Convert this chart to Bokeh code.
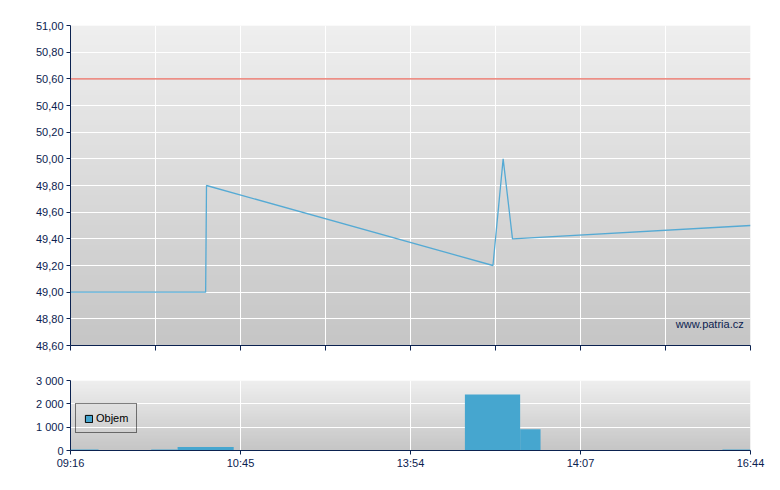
import numpy as np
from bokeh.plotting import figure
from bokeh.layouts import column
from bokeh.models import (Range1d, FixedTicker, CustomJSTickFormatter, Label,
                          Legend, LegendItem, ColumnDataSource)
from bokeh.embed import file_html
from bokeh.resources import INLINE

# ---------------- data ----------------
# time axis in "slot" units: 0 = 09:16 ... 8 = 16:44
time_ticks = [0, 2, 4, 6, 8]
time_labels = ["09:16", "10:45", "13:54", "14:07", "16:44"]

price_t = [0.0, 1.59, 1.60, 4.97, 5.09, 5.20, 8.0]
price_v = [49.00, 49.00, 49.80, 49.20, 50.00, 49.40, 49.50]
ref_price = 50.60

vol_left = [0.0, 0.95, 1.26, 4.64, 5.29, 7.67]
vol_right = [0.33, 1.26, 1.92, 5.29, 5.53, 8.0]
vol_value = [40, 40, 150, 2400, 910, 40]

price_ticks = [48.6, 48.8, 49.0, 49.2, 49.4, 49.6, 49.8, 50.0, 50.2, 50.4, 50.6, 50.8, 51.0]
vol_ticks = [0, 1000, 2000, 3000]

# ---------------- style ----------------
NAVY = "#0b2250"
FONT = "Liberation Sans"
LINE_BLUE = "#55aad4"
BAR_BLUE = "#46a6cf"


def gradient(top=0xEF, bottom=0xC6, n=64):
    vals = np.linspace(bottom, top, n).astype(np.uint32)  # row 0 = bottom
    img = (0xFF << 24) | (vals << 16) | (vals << 8) | vals
    return img.reshape(n, 1).astype(np.uint32)


def style(p):
    p.outline_line_color = None
    p.background_fill_color = "white"
    p.border_fill_color = "white"
    for ax in (p.xaxis[0], p.yaxis[0]):
        ax.axis_line_color = NAVY
        ax.major_tick_line_color = NAVY
        ax.major_tick_in = 0
        ax.major_tick_out = 4
        ax.minor_tick_line_color = None
        ax.major_label_text_color = NAVY
        ax.major_label_text_font = FONT
        ax.major_label_text_font_size = "11px"
        ax.major_label_standoff = 3
    p.xgrid.grid_line_color = "white"
    p.ygrid.grid_line_color = "white"
    p.xgrid.grid_line_width = 1
    p.ygrid.grid_line_width = 1


# ---------------- price chart ----------------
p1 = figure(width=772, height=368, output_backend="svg", toolbar_location=None,
            x_range=Range1d(0, 8), y_range=Range1d(48.6, 51.0),
            min_border_left=70, min_border_right=22, min_border_top=25, min_border_bottom=23)
p1.image_rgba(image=[gradient()], x=0, y=48.6, dw=8, dh=2.4, level="image")
style(p1)
p1.xaxis.ticker = FixedTicker(ticks=list(range(0, 9)))
p1.xaxis.formatter = CustomJSTickFormatter(code="return ''")
p1.xaxis.major_tick_out = 5
p1.yaxis.ticker = FixedTicker(ticks=price_ticks)
p1.yaxis.formatter = CustomJSTickFormatter(code="return tick.toFixed(2).replace('.', ',')")

p1.line(x=[0, 8], y=[ref_price, ref_price], line_color="#e8685c", line_width=1.2)
p1.line(x=price_t, y=price_v, line_color=LINE_BLUE, line_width=1.3)

p1.add_layout(Label(x=7.92, y=48.765, text="www.patria.cz", text_align="right",
                    text_baseline="middle", text_color=NAVY, text_font=FONT,
                    text_font_size="11px"))

# ---------------- volume chart ----------------
p2 = figure(width=772, height=112, output_backend="svg", toolbar_location=None,
            x_range=Range1d(0, 8), y_range=Range1d(0, 3000),
            min_border_left=70, min_border_right=22, min_border_top=12, min_border_bottom=30)
p2.image_rgba(image=[gradient()], x=0, y=0, dw=8, dh=3000, level="image")
style(p2)
p2.xaxis.ticker = FixedTicker(ticks=time_ticks)
p2.xaxis.major_label_overrides = {t: l for t, l in zip(time_ticks, time_labels)}
p2.xaxis.major_label_standoff = 2
p2.yaxis.ticker = FixedTicker(ticks=vol_ticks)
p2.yaxis.formatter = CustomJSTickFormatter(
    code="return Math.round(tick).toString().replace(/\\B(?=(\\d{3})+(?!\\d))/g, ' ')")

src = ColumnDataSource(dict(left=vol_left, right=vol_right, top=vol_value,
                            bottom=[0] * len(vol_value)))
p2.quad(left="left", right="right", top="top", bottom="bottom", source=src,
        fill_color=BAR_BLUE, line_color=None)
# legend swatch renderer (kept outside the visible range)
swatch = p2.quad(left=[-2], right=[-1], top=[0], bottom=[0], fill_color=BAR_BLUE,
                 line_color="black", line_width=1)

legend = Legend(items=[LegendItem(label="Objem", renderers=[swatch])],
                location=(5, 17), orientation="vertical",
                border_line_color="black", border_line_width=1,
                background_fill_alpha=0, label_text_font=FONT,
                label_text_font_size="11px", label_text_color="black",
                glyph_width=9, glyph_height=9, label_standoff=3,
                padding=8, margin=0, label_height=12)
p2.add_layout(legend, "center")

layout = column(p1, p2, spacing=0)
open("out.html", "w").write(file_html(layout, INLINE))
